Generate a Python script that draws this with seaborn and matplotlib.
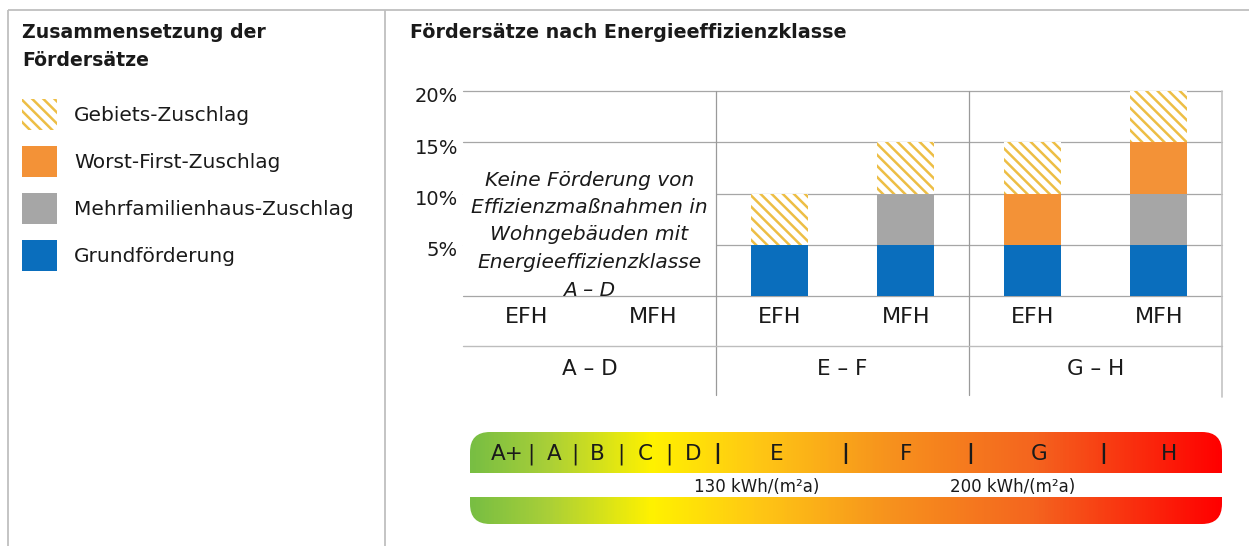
import numpy as np
import pandas as pd
import matplotlib.pyplot as plt
import seaborn as sns
from matplotlib.patches import Rectangle, FancyBboxPatch
from matplotlib.colors import LinearSegmentedColormap
from matplotlib.transforms import ScaledTranslation

sns.set_style('white')
plt.rcParams['font.family'] = ['DejaVu Sans']
plt.rcParams['hatch.linewidth'] = 1.8

# data
klassen = ['A – D', 'A – D', 'E – F', 'E – F', 'G – H', 'G – H']
gebaeude = ['EFH', 'MFH', 'EFH', 'MFH', 'EFH', 'MFH']
grundfoerderung = [0, 0, 5, 5, 5, 5]
mfh_zuschlag = [0, 0, 0, 5, 0, 5]
worst_first_zuschlag = [0, 0, 0, 0, 5, 5]
gebiets_zuschlag = [0, 0, 5, 5, 5, 5]
klassen_gruppen = ['A – D', 'E – F', 'G – H']
y_ticks = [0, 5, 10, 15, 20]
hinweis = ['Keine Förderung von', 'Effizienzmaßnahmen in', 'Wohngebäuden mit',
           'Energieeffizienzklasse', 'A – D']
skala_klassen = ['A+', 'A', 'B', 'C', 'D', 'E', 'F', 'G', 'H']
skala_grenzen = ['130 kWh/(m²a)', '200 kWh/(m²a)']

# layout (pixels of the 1249x546 picture)
W, H = 1249, 546
skala_x = [507, 554, 597, 645, 693, 777, 906, 1039, 1169]
trenner_x = [531, 575, 621, 669, 717, 845, 970, 1103]
grenzen_x = [757, 1013]

BLAU = '#0A6EBD'
GRAU = '#A6A6A6'
ORANGE = '#F39237'
GELB = '#EDBE45'
TEXT = '#1a1a1a'
HATCH = '\\\\\\'

df = pd.DataFrame({
    'slot': [f'{k} {g}' for k, g in zip(klassen, gebaeude)],
    'grund': grundfoerderung,
    'mfh': mfh_zuschlag,
    'worst': worst_first_zuschlag,
    'gebiet': gebiets_zuschlag,
})
df['s1'] = df['grund']
df['s2'] = df['s1'] + df['mfh']
df['s3'] = df['s2'] + df['worst']
df['s4'] = df['s3'] + df['gebiet']

fig = plt.figure(figsize=(W / 100, H / 100), dpi=100)

# overlay in pixel coordinates for frame, legend and energy scale
ov = fig.add_axes([0, 0, 1, 1], zorder=0)
ov.axis('off')

ax = fig.add_axes([463 / W, 1 - 296 / H, (1222 - 463) / W, (296 - 91) / H], zorder=1)
ax.patch.set_visible(False)

# stacked bars: draw cumulative totals back to front
layers = [('s4', 'white', GELB, HATCH),
          ('s3', ORANGE, ORANGE, None),
          ('s2', GRAU, GRAU, None),
          ('s1', BLAU, BLAU, None)]
for col, fc, ec, hatch in layers:
    sns.barplot(data=df, x='slot', y=col, order=list(df['slot']), ax=ax,
                color=fc, saturation=1, width=0.45, errorbar=None,
                edgecolor=ec, linewidth=0, hatch=hatch, zorder=2)

ax.set_xlim(-0.5, 5.5)
ax.set_ylim(0, 20)
ax.set_xlabel('')
ax.set_ylabel('')
for s in ax.spines.values():
    s.set_visible(False)

ax.set_axisbelow(True)
ax.yaxis.grid(True, color='#A6A6A6', lw=0.9)
ax.xaxis.grid(False)
ax.set_yticks(y_ticks, labels=['' if v == 0 else f'{v}%' for v in y_ticks])
ax.set_xticks(range(len(gebaeude)), labels=gebaeude)
ax.tick_params(axis='y', length=0, pad=3.6, labelsize=14, labelcolor=TEXT)
ax.tick_params(axis='x', length=0, pad=8, labelsize=16, labelcolor=TEXT)
for gl in ax.get_ygridlines():
    gl.set_clip_on(False)

# group separators and category row
low = (296 - 395) / 205
for xv in [1.5, 3.5]:
    ax.axvline(xv, ymin=low, ymax=1, color='#9A9A9A', lw=0.9, clip_on=False)
ax.axvline(5.5, ymin=(296 - 397) / 205, ymax=1, color='#C4C4C4', lw=1.2, clip_on=False)
ax.plot([0, 1], [(296 - 346) / 205] * 2, transform=ax.transAxes, color='#BDBDBD',
        lw=1.0, clip_on=False)
btr = ax.get_xaxis_transform()
for i, g in enumerate(klassen_gruppen):
    ax.text(2 * i + 0.5, (296 - 375) / 205, g, transform=btr, ha='center',
            va='baseline', fontsize=15.5, color=TEXT)

# note for A - D
ax.add_patch(Rectangle((-0.5, 0.6), 2, 12.9, facecolor='white', edgecolor='none', zorder=1))
for i, line in enumerate(hinweis):
    ax.text(0.5, (296 - (180 + i * 27.5)) / 205, line, transform=btr, ha='center',
            va='center', fontsize=14.5, style='italic', color=TEXT, zorder=3)

# frame
for xs, ys in [([8, W], [10, 10]), ([8, 8], [10, H]), ([385, 385], [10, H])]:
    ov.plot(xs, ys, color='#BFBFBF', lw=1.3, solid_capstyle='butt')

# titles
ov.text(22, 33, 'Zusammensetzung der', fontsize=13.6, fontweight='bold', va='center', color=TEXT)
ov.text(22, 60, 'Fördersätze', fontsize=13.6, fontweight='bold', va='center', color=TEXT)
ov.text(410, 33, 'Fördersätze nach Energieeffizienzklasse', fontsize=13.8,
        fontweight='bold', va='center', color=TEXT)

# legend
legende = [('Gebiets-Zuschlag', 'white', GELB, HATCH),
           ('Worst-First-Zuschlag', ORANGE, ORANGE, None),
           ('Mehrfamilienhaus-Zuschlag', GRAU, GRAU, None),
           ('Grundförderung', BLAU, BLAU, None)]
for i, (lab, fc, ec, hatch) in enumerate(legende):
    top = 99 + i * 47
    ov.add_patch(Rectangle((22, top), 35, 31, facecolor=fc, edgecolor=ec, lw=0, hatch=hatch))
    ov.text(74, top + 16.5, lab, fontsize=14.5, va='center', color=TEXT)

# energy efficiency scale
cmap = LinearSegmentedColormap.from_list('effizienz', [
    (0.00, '#78BE43'), (0.10, '#A8CF38'), (0.24, '#FFF200'), (0.38, '#FFC814'),
    (0.55, '#F7941D'), (0.75, '#F4651F'), (1.00, '#FF0000')])
grad = np.linspace(0, 1, 600)[None, :]
im = ov.imshow(grad, extent=(470, 1222, 524, 432), aspect='auto', cmap=cmap, zorder=1)
clip = FancyBboxPatch((470, 432), 752, 92, boxstyle='round,pad=0,rounding_size=20',
                      transform=ov.transData, facecolor='none', edgecolor='none')
ov.add_patch(clip)
im.set_clip_path(clip)
ov.add_patch(Rectangle((460, 473), 780, 24, facecolor='white', edgecolor='none', zorder=2))

for xv, lab in zip(skala_x, skala_klassen):
    ov.text(xv, 454, lab, ha='center', va='center', fontsize=15.5, color=TEXT, zorder=3)
for i, xv in enumerate(trenner_x):
    ov.text(xv, 454, '|', ha='center', va='center', fontsize=15.5, color=TEXT, zorder=3,
            fontweight='bold' if i >= 4 else 'normal')
for xv, lab in zip(grenzen_x, skala_grenzen):
    ov.text(xv, 487, lab, ha='center', va='center', fontsize=12, color=TEXT, zorder=3)

ov.set_xlim(0, W)
ov.set_ylim(H, 0)

# y labels sit slightly below their grid lines
off = ScaledTranslation(0, -4 / 100, fig.dpi_scale_trans)
for lab in ax.get_yticklabels():
    lab.set_transform(lab.get_transform() + off)

fig.savefig('out.png', dpi=100)
